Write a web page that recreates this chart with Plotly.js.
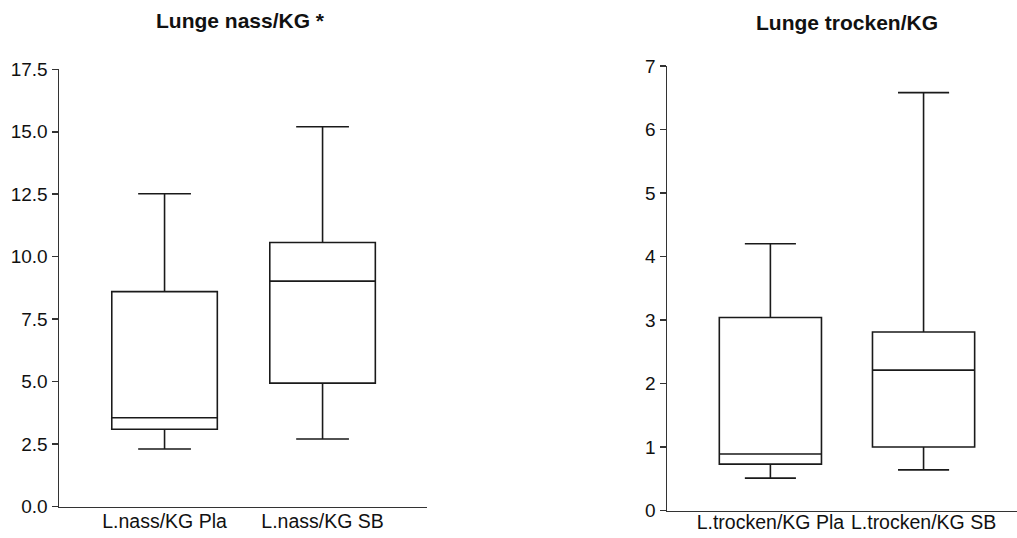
<!DOCTYPE html>
<html>
<head>
<meta charset="utf-8">
<script src="https://cdn.plot.ly/plotly-3.0.1.min.js"></script>
<style>html,body{margin:0;padding:0;background:#fff;}#chart{width:1017px;height:538px;}</style>
</head>
<body>
<div id="chart"></div>
<script>
// Left panel: Lunge nass/KG
const nassCategories = ["L.nass/KG Pla", "L.nass/KG SB"];
const nassLower  = [2.30, 2.70];
const nassQ1     = [3.09, 4.94];
const nassMedian = [3.55, 9.02];
const nassQ3     = [8.60, 10.57];
const nassUpper  = [12.52, 15.20];

// Right panel: Lunge trocken/KG
const trockenCategories = ["L.trocken/KG Pla", "L.trocken/KG SB"];
const trockenLower  = [0.51, 0.64];
const trockenQ1     = [0.73, 1.00];
const trockenMedian = [0.89, 2.21];
const trockenQ3     = [3.04, 2.81];
const trockenUpper  = [4.20, 6.58];

const titles = ["Lunge nass/KG *", "Lunge trocken/KG"];

const FONT = "Liberation Sans, Arial, Helvetica, sans-serif";
const boxLine = {color: "#1a1a1a", width: 1.6};

const traces = [
  {
    type: "box", xaxis: "x", yaxis: "y",
    x: nassCategories, q1: nassQ1, median: nassMedian, q3: nassQ3,
    lowerfence: nassLower, upperfence: nassUpper,
    fillcolor: "#ffffff", line: boxLine, whiskerwidth: 0.5, width: 0.668,
    boxpoints: false, showlegend: false, hoverinfo: "y"
  },
  {
    type: "box", xaxis: "x2", yaxis: "y2",
    x: trockenCategories, q1: trockenQ1, median: trockenMedian, q3: trockenQ3,
    lowerfence: trockenLower, upperfence: trockenUpper,
    fillcolor: "#ffffff", line: boxLine, whiskerwidth: 0.5, width: 0.667,
    boxpoints: false, showlegend: false, hoverinfo: "y"
  }
];

const axisCommon = {
  showgrid: false, zeroline: false, showline: true,
  linecolor: "#333333", linewidth: 1.5,
  tickfont: {family: FONT, size: 19, color: "#111111"}
};

const layout = {
  width: 1017, height: 538,
  margin: {l: 0, r: 0, t: 0, b: 0},
  paper_bgcolor: "#ffffff", plot_bgcolor: "#ffffff",
  font: {family: FONT, color: "#111111"},
  showlegend: false,
  xaxis: Object.assign({}, axisCommon, {
    domain: [59/1017, 427/1017], anchor: "y",
    type: "category", range: [-0.668, 1.661],
    ticks: "", ticklabelstandoff: -3,
    tickfont: {family: FONT, size: 19.5, color: "#111111"}
  }),
  yaxis: Object.assign({}, axisCommon, {
    domain: [(538-506.5)/538, (538-69.3)/538], anchor: "x",
    range: [0, 17.5], dtick: 2.5, tick0: 0, tickformat: ".1f",
    ticks: "outside", ticklen: 6, tickwidth: 1.5, tickcolor: "#333333"
  }),
  xaxis2: Object.assign({}, axisCommon, {
    domain: [667/1017, 1], anchor: "y2",
    type: "category", range: [-0.675, 1.61],
    ticks: "", ticklabelstandoff: -6,
    tickfont: {family: FONT, size: 19.5, color: "#111111"}
  }),
  yaxis2: Object.assign({}, axisCommon, {
    domain: [(538-510.5)/538, (538-66)/538], anchor: "x2",
    range: [0, 7], dtick: 1, tick0: 0,
    ticks: "outside", ticklen: 6, tickwidth: 1.5, tickcolor: "#333333"
  }),
  annotations: [
    {text: "<b>" + titles[0] + "</b>", xref: "paper", yref: "paper",
     x: 240.5/1017, y: 1 - 20/538, xanchor: "center", yanchor: "middle",
     showarrow: false, font: {family: FONT, size: 21, color: "#111111"}},
    {text: "<b>" + titles[1] + "</b>", xref: "paper", yref: "paper",
     x: 846.5/1017, y: 1 - 22/538, xanchor: "center", yanchor: "middle",
     showarrow: false, font: {family: FONT, size: 21, color: "#111111"}}
  ]
};

Plotly.newPlot("chart", traces, layout, {staticPlot: true, displayModeBar: false});
</script>
</body>
</html>
